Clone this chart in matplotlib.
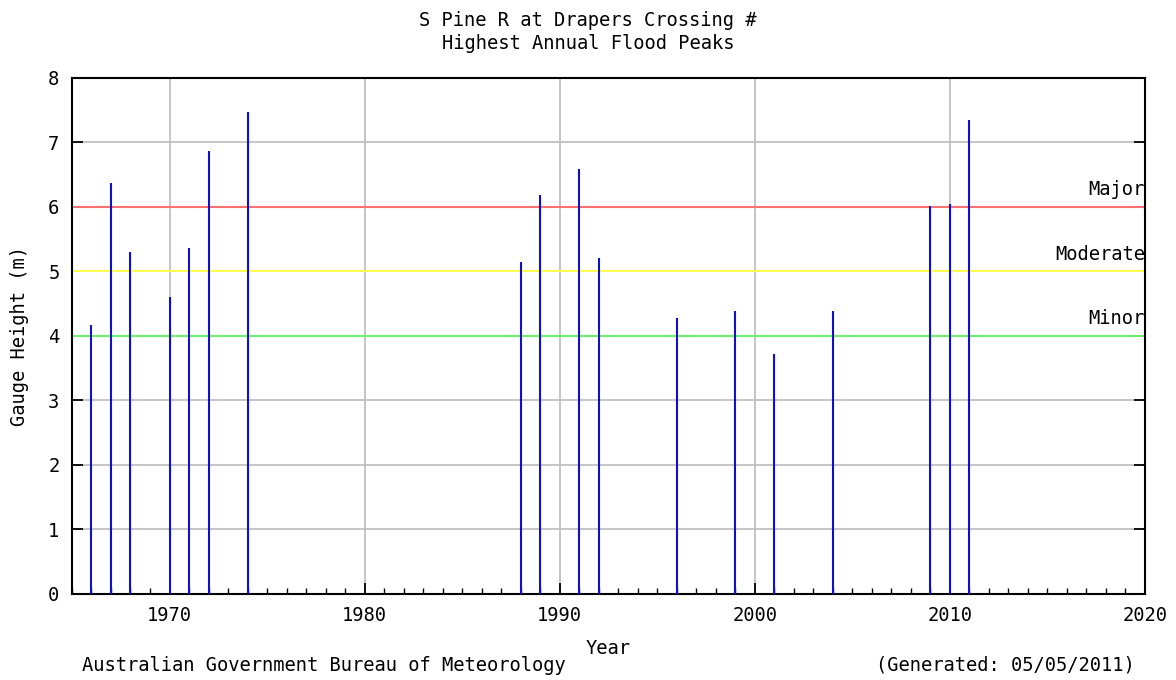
import matplotlib
matplotlib.use("Agg")
import matplotlib.pyplot as plt
from matplotlib.ticker import MultipleLocator

years = [1966, 1967, 1968, 1970, 1971, 1972, 1974, 1988, 1989, 1991, 1992,
         1996, 1999, 2001, 2004, 2009, 2010, 2011]
peaks = [4.17, 6.37, 5.30, 4.60, 5.36, 6.87, 7.47, 5.15, 6.19, 6.59, 5.21,
         4.28, 4.39, 3.72, 4.39, 6.02, 6.05, 7.35]
levels = [6.0, 5.0, 4.0]
level_names = ["Major", "Moderate", "Minor"]
level_colors = ["#ff7070", "#ffff50", "#70ee70"]

FS = 13.5
plt.rcParams['font.family'] = ['DejaVu Sans Mono']
fig = plt.figure(figsize=(11.76, 6.8), dpi=100)
ax = fig.add_axes([0.0612, 0.1265, 0.9124, 0.7588])

ax.set_xlim(1965, 2020)
ax.set_ylim(0, 8)
ax.grid(True, which='major', color='#c0c0c0', linewidth=1.3)
ax.set_axisbelow(True)

for lv, name, col in zip(levels, level_names, level_colors):
    ax.axhline(lv, color=col, linewidth=1.5, zorder=2)
    ax.text(2020, lv + 0.12, name, ha='right', va='bottom', fontsize=FS, zorder=4)

ax.vlines(years, 0, peaks, color='#1010c8', linewidth=1.5, zorder=3)

ax.xaxis.set_major_locator(MultipleLocator(10))
ax.xaxis.set_minor_locator(MultipleLocator(1))
ax.yaxis.set_major_locator(MultipleLocator(1))
ax.tick_params(which='major', direction='in', length=8, width=1.3, labelsize=FS,
               right=True)
ax.tick_params(axis='x', pad=9)
ax.tick_params(which='minor', direction='in', length=4, width=1, top=False)
ax.tick_params(axis='y', pad=9)
for s in ax.spines.values():
    s.set_linewidth(1.5)

ax.set_ylabel("Gauge Height (m)", fontsize=FS, labelpad=14)
ax.set_xlabel("Year", fontsize=FS, labelpad=10)
fig.text(0.5, 0.953, "S Pine R at Drapers Crossing #\nHighest Annual Flood Peaks",
         ha='center', va='center', fontsize=FS, linespacing=1.3)
fig.text(0.07, 0.008, "Australian Government Bureau of Meteorology", ha='left',
         va='bottom', fontsize=FS)
fig.text(0.965, 0.008, "(Generated: 05/05/2011)", ha='right', va='bottom', fontsize=FS)

fig.savefig("out.png", dpi=100)
